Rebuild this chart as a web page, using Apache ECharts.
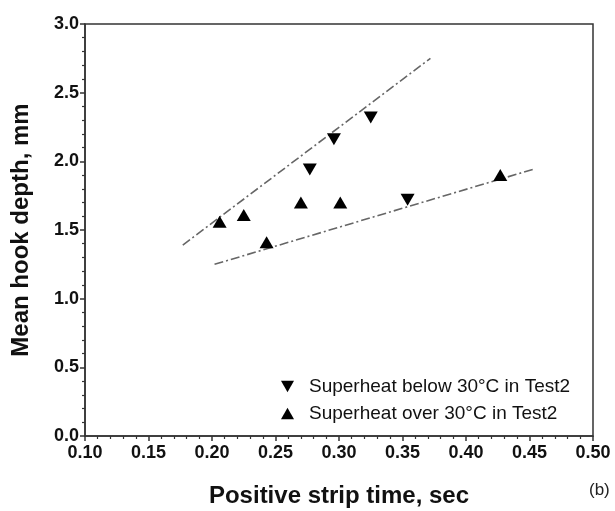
<!DOCTYPE html>
<html><head><meta charset="utf-8">
<script src="https://cdn.jsdelivr.net/npm/echarts@6/dist/echarts.min.js"></script>
<style>html,body{margin:0;padding:0;background:#fff}#c{width:615px;height:511px}</style>
</head><body><div id="c"></div>
<script>
// Data
const belowX = [0.325, 0.296, 0.277, 0.354];
const belowY = [2.32, 2.16, 1.94, 1.72];
const overX = [0.206, 0.225, 0.243, 0.270, 0.301, 0.427];
const overY = [1.56, 1.61, 1.41, 1.70, 1.70, 1.90];
const fitUpperX = [0.177, 0.372];
const fitUpperY = [1.39, 2.75];
const fitLowerX = [0.202, 0.454];
const fitLowerY = [1.25, 1.945];
const xTicks = ['0.10','0.15','0.20','0.25','0.30','0.35','0.40','0.45','0.50'];
const yTicks = ['0.0','0.5','1.0','1.5','2.0','2.5','3.0'];
const nameBelow = 'Superheat below 30°C in Test2';
const nameOver = 'Superheat over 30°C in Test2';

const zip = (a, b) => a.map((v, i) => [v, b[i]]);
const downTri = 'path://M0,0L10,0L5,9Z';
const upTri = 'path://M5,0L10,9L0,9Z';
const font = 'Liberation Sans, Arial, sans-serif';
const dashDot = { color: '#666', width: 1.6, type: [9, 3, 2, 3] };

const chart = echarts.init(document.getElementById('c'), null, { renderer: 'canvas' });
chart.setOption({
  animation: false,
  backgroundColor: '#fff',
  grid: { left: 85, right: 22, top: 24, bottom: 75, containLabel: false, outerBoundsMode: 'none',
    show: true, borderColor: '#333', borderWidth: 1.5, backgroundColor: 'transparent' },
  xAxis: {
    type: 'value', min: 0.10, max: 0.50, interval: 0.05,
    name: 'Positive strip time, sec', nameLocation: 'middle', nameGap: 48,
    nameTextStyle: { fontFamily: font, fontWeight: 'bold', fontSize: 24, color: '#111' },
    axisLine: { lineStyle: { color: '#333', width: 1.5 } },
    axisTick: { inside: false, length: 5, lineStyle: { color: '#333', width: 1.5 } },
    minorTick: { show: true, splitNumber: 5, length: 3, lineStyle: { color: '#333', width: 1.2 } },
    splitLine: { show: false },
    axisLabel: { fontFamily: font, fontWeight: 'bold', fontSize: 18, color: '#111', margin: 8,
      formatter: v => xTicks[Math.round((v - 0.10) / 0.05)] }
  },
  yAxis: {
    type: 'value', min: 0, max: 3.0, interval: 0.5,
    name: 'Mean hook depth, mm', nameLocation: 'middle', nameGap: 52,
    nameTextStyle: { fontFamily: font, fontWeight: 'bold', fontSize: 24, color: '#111' },
    axisLine: { lineStyle: { color: '#333', width: 1.5 } },
    axisTick: { inside: false, length: 5, lineStyle: { color: '#333', width: 1.5 } },
    minorTick: { show: true, splitNumber: 5, length: 3, lineStyle: { color: '#333', width: 1.2 } },
    splitLine: { show: false },
    axisLabel: { fontFamily: font, fontWeight: 'bold', fontSize: 18, color: '#111', margin: 6,
      formatter: v => yTicks[Math.round(v / 0.5)] }
  },
  legend: {
    orient: 'vertical', left: 276, top: 372, itemGap: 8, itemWidth: 13, itemHeight: 12,
    textStyle: { fontFamily: font, fontSize: 19, color: '#111', padding: [0, 0, 0, 10] },
    data: [{ name: nameBelow, icon: downTri, itemStyle: { color: '#000', opacity: 1 } },
           { name: nameOver, icon: upTri, itemStyle: { color: '#000', opacity: 1 } }]
  },
  graphic: [{ type: 'text', left: 589, top: 482, style: { text: '(b)', fontFamily: font, fontSize: 17, fill: '#222' } }],
  series: [
    { type: 'line', data: zip(fitUpperX, fitUpperY), symbol: 'none', lineStyle: dashDot, silent: true, z: 1 },
    { type: 'line', data: zip(fitLowerX, fitLowerY), symbol: 'none', lineStyle: dashDot, silent: true, z: 1 },
    { name: nameBelow, type: 'scatter', data: zip(belowX, belowY), symbol: downTri, symbolSize: [14, 12],
      itemStyle: { color: '#000', opacity: 1 }, z: 3 },
    { name: nameOver, type: 'scatter', data: zip(overX, overY), symbol: upTri, symbolSize: [14, 12],
      itemStyle: { color: '#000', opacity: 1 }, z: 3 }
  ]
});
</script></body></html>
